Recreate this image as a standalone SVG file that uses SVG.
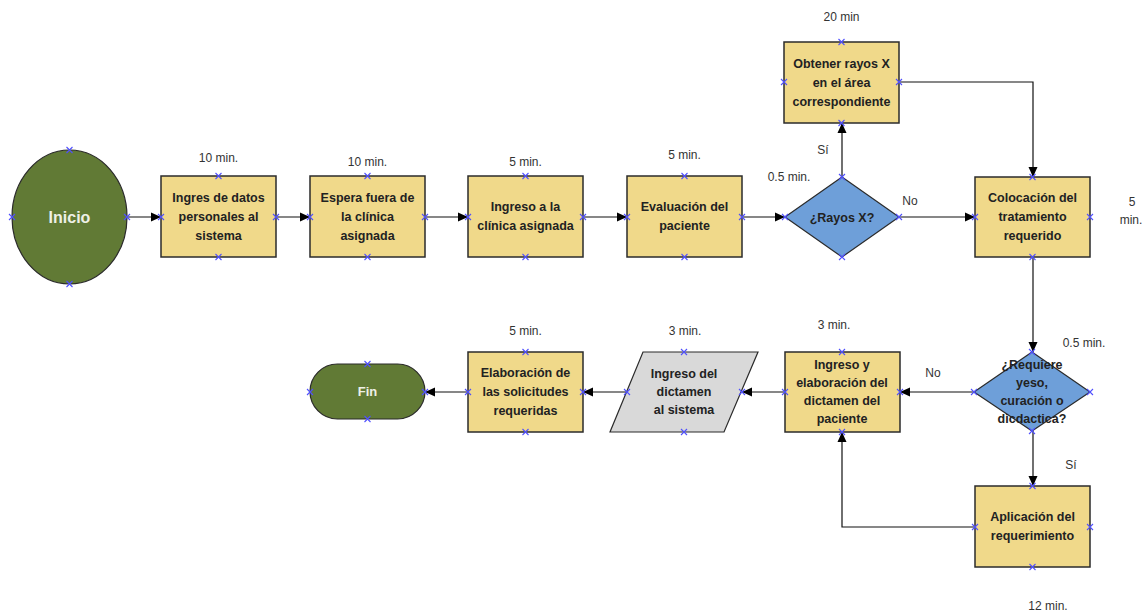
<svg xmlns="http://www.w3.org/2000/svg" xmlns:xlink="http://www.w3.org/1999/xlink" width="1146" height="614" viewBox="0 0 1146 614">
<defs>
<marker id="arr" viewBox="0 0 10 10" refX="10" refY="5" markerWidth="10" markerHeight="10" markerUnits="userSpaceOnUse" orient="auto">
<path d="M0,0.5 L10,5 L0,9.5 Z" fill="#000"/>
</marker>
<g id="cp"><path d="M-3,-3 L3,3 M-3,3 L3,-3" stroke="#5050ff" stroke-width="1.1" fill="none"/></g>
</defs>
<style>
.box{fill:#f0d98a;stroke:#2b2b2b;stroke-width:1.5}
.dia{fill:#6e9fd9;stroke:#2b2b2b;stroke-width:1.2}
.grn{fill:#617a35;stroke:#2b2b2b;stroke-width:1.2}
.par{fill:#d9d9d9;stroke:#2b2b2b;stroke-width:1.2}
.t{font-family:"Liberation Sans",Arial,sans-serif;font-weight:bold;font-size:12.5px;fill:#222;text-anchor:middle}
.w{font-family:"Liberation Sans",Arial,sans-serif;font-weight:bold;fill:#eef0e6;text-anchor:middle}
.l{font-family:"Liberation Sans",Arial,sans-serif;font-size:12px;fill:#333;text-anchor:middle}
.c{fill:none;stroke:#111;stroke-width:1.2}
</style>
<rect width="1146" height="614" fill="#fff"/>
<g id="connectors">
<path class="c" d="M127,217 H161" marker-end="url(#arr)"/>
<path class="c" d="M276,217 H310" marker-end="url(#arr)"/>
<path class="c" d="M425,217 H468" marker-end="url(#arr)"/>
<path class="c" d="M583,217 H627" marker-end="url(#arr)"/>
<path class="c" d="M742,217 H785" marker-end="url(#arr)"/>
<path class="c" d="M842,177 V123" marker-end="url(#arr)"/>
<path class="c" d="M899,217 H975" marker-end="url(#arr)"/>
<path class="c" d="M899,82 H1033 V177" marker-end="url(#arr)"/>
<path class="c" d="M1033,257 V352" marker-end="url(#arr)"/>
<path class="c" d="M974,392 H900" marker-end="url(#arr)"/>
<path class="c" d="M1033,431 V486" marker-end="url(#arr)"/>
<path class="c" d="M975,527 H842 V432" marker-end="url(#arr)"/>
<path class="c" d="M785,392 H742" marker-end="url(#arr)"/>
<path class="c" d="M627,392 H583" marker-end="url(#arr)"/>
<path class="c" d="M468,392 H425" marker-end="url(#arr)"/>
</g>
<g id="inicio">
<ellipse class="grn" cx="69.5" cy="217" rx="57.5" ry="67"/>
<text class="w" x="69.5" y="223" font-size="16">Inicio</text>
<use xlink:href="#cp" x="69.5" y="150"/><use xlink:href="#cp" x="69.5" y="284"/><use xlink:href="#cp" x="12" y="217"/><use xlink:href="#cp" x="127" y="217"/>
</g>
<g id="n1">
<rect class="box" x="161" y="176" width="115" height="81"/>
<text class="t" x="218.5" y="202">Ingres de datos</text>
<text class="t" x="218.5" y="221">personales al</text>
<text class="t" x="218.5" y="240">sistema</text>
<text class="l" x="218.5" y="162">10 min.</text>
<use xlink:href="#cp" x="218.5" y="176"/><use xlink:href="#cp" x="218.5" y="257"/><use xlink:href="#cp" x="161" y="217"/><use xlink:href="#cp" x="276" y="217"/>
</g>
<g id="n2">
<rect class="box" x="310" y="176" width="115" height="81"/>
<text class="t" x="367.5" y="202">Espera fuera de</text>
<text class="t" x="367.5" y="221">la clínica</text>
<text class="t" x="367.5" y="240">asignada</text>
<text class="l" x="367.5" y="166">10 min.</text>
<use xlink:href="#cp" x="367.5" y="176"/><use xlink:href="#cp" x="367.5" y="257"/><use xlink:href="#cp" x="310" y="217"/><use xlink:href="#cp" x="425" y="217"/>
</g>
<g id="n3">
<rect class="box" x="468" y="176" width="115" height="81"/>
<text class="t" x="525.5" y="211">Ingreso a la</text>
<text class="t" x="525.5" y="230">clínica asignada</text>
<text class="l" x="525.5" y="166">5 min.</text>
<use xlink:href="#cp" x="525.5" y="176"/><use xlink:href="#cp" x="525.5" y="257"/><use xlink:href="#cp" x="468" y="217"/><use xlink:href="#cp" x="583" y="217"/>
</g>
<g id="n4">
<rect class="box" x="627" y="176" width="115" height="81"/>
<text class="t" x="684.5" y="211">Evaluación del</text>
<text class="t" x="684.5" y="230">paciente</text>
<text class="l" x="684.5" y="159">5 min.</text>
<use xlink:href="#cp" x="684.5" y="176"/><use xlink:href="#cp" x="684.5" y="257"/><use xlink:href="#cp" x="627" y="217"/><use xlink:href="#cp" x="742" y="217"/>
</g>
<g id="rayos">
<polygon class="dia" points="842,177 899,217 842,257 785,217"/>
<text class="t" x="842" y="222">¿Rayos X?</text>
<text class="l" x="789" y="181">0.5 min.</text>
<text class="l" x="823" y="154">Sí</text>
<text class="l" x="910" y="205">No</text>
<use xlink:href="#cp" x="842" y="177"/><use xlink:href="#cp" x="842" y="257"/><use xlink:href="#cp" x="785" y="217"/><use xlink:href="#cp" x="899" y="217"/>
</g>
<g id="obtener">
<rect class="box" x="784" y="42" width="115" height="81"/>
<text class="t" x="841.5" y="68">Obtener rayos X</text>
<text class="t" x="841.5" y="87">en el área</text>
<text class="t" x="841.5" y="106">correspondiente</text>
<text class="l" x="841.5" y="21">20 min</text>
<use xlink:href="#cp" x="841.5" y="42"/><use xlink:href="#cp" x="841.5" y="123"/><use xlink:href="#cp" x="784" y="82"/><use xlink:href="#cp" x="899" y="82"/>
</g>
<g id="colocacion">
<rect class="box" x="975" y="177" width="115" height="80"/>
<text class="t" x="1032.5" y="202">Colocación del</text>
<text class="t" x="1032.5" y="221">tratamiento</text>
<text class="t" x="1032.5" y="240">requerido</text>
<text class="l" x="1132" y="206">5</text>
<text class="l" x="1131" y="224">min.</text>
<use xlink:href="#cp" x="1032.5" y="177"/><use xlink:href="#cp" x="1032.5" y="257"/><use xlink:href="#cp" x="975" y="217"/><use xlink:href="#cp" x="1090" y="217"/>
</g>
<g id="requiere">
<polygon class="dia" points="1032,352 1090,392 1032,431 974,392"/>
<text class="t" x="1032" y="369">¿Requiere</text>
<text class="t" x="1032" y="387">yeso,</text>
<text class="t" x="1032" y="405">curación o</text>
<text class="t" x="1032" y="423">dicdactica?</text>
<text class="l" x="1084" y="347">0.5 min.</text>
<text class="l" x="1071" y="469">Sí</text>
<text class="l" x="933" y="377">No</text>
<use xlink:href="#cp" x="1032" y="352"/><use xlink:href="#cp" x="1032" y="431"/><use xlink:href="#cp" x="974" y="392"/><use xlink:href="#cp" x="1090" y="392"/>
</g>
<g id="aplicacion">
<rect class="box" x="975" y="486" width="115" height="81"/>
<text class="t" x="1032.5" y="521">Aplicación del</text>
<text class="t" x="1032.5" y="540">requerimiento</text>
<text class="l" x="1048" y="610">12 min.</text>
<use xlink:href="#cp" x="1032.5" y="486"/><use xlink:href="#cp" x="1032.5" y="567"/><use xlink:href="#cp" x="975" y="527"/><use xlink:href="#cp" x="1090" y="527"/>
</g>
<g id="dictamen">
<rect class="box" x="785" y="352" width="115" height="80"/>
<text class="t" x="842" y="369">Ingreso y</text>
<text class="t" x="842" y="387">elaboración del</text>
<text class="t" x="842" y="405">dictamen del</text>
<text class="t" x="842" y="423">paciente</text>
<text class="l" x="834" y="329">3 min.</text>
<use xlink:href="#cp" x="842" y="352"/><use xlink:href="#cp" x="842" y="432"/><use xlink:href="#cp" x="785" y="392"/><use xlink:href="#cp" x="900" y="392"/>
</g>
<g id="ingresodictamen">
<polygon class="par" points="643,352 758,352 724,432 610,432"/>
<text class="t" x="684" y="378">Ingreso del</text>
<text class="t" x="684" y="396">dictamen</text>
<text class="t" x="684" y="414">al sistema</text>
<text class="l" x="685" y="335">3 min.</text>
<use xlink:href="#cp" x="684" y="352"/><use xlink:href="#cp" x="684" y="432"/><use xlink:href="#cp" x="627" y="392"/><use xlink:href="#cp" x="742" y="392"/>
</g>
<g id="elaboracion">
<rect class="box" x="468" y="352" width="115" height="80"/>
<text class="t" x="525.5" y="377">Elaboración de</text>
<text class="t" x="525.5" y="396">las solicitudes</text>
<text class="t" x="525.5" y="415">requeridas</text>
<text class="l" x="525.5" y="335">5 min.</text>
<use xlink:href="#cp" x="525.5" y="352"/><use xlink:href="#cp" x="525.5" y="432"/><use xlink:href="#cp" x="468" y="392"/><use xlink:href="#cp" x="583" y="392"/>
</g>
<g id="fin">
<rect class="grn" x="310" y="364" width="115" height="55" rx="27.5"/>
<text class="w" x="367.5" y="396" font-size="13">Fin</text>
<use xlink:href="#cp" x="367.5" y="364"/><use xlink:href="#cp" x="367.5" y="419"/><use xlink:href="#cp" x="310" y="392"/><use xlink:href="#cp" x="425" y="392"/>
</g>
</svg>
